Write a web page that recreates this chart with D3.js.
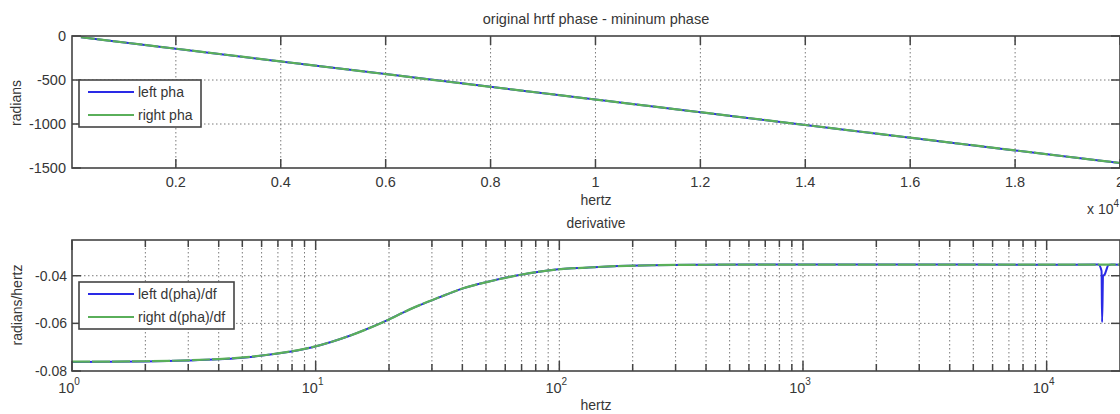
<!DOCTYPE html>
<html><head><meta charset="utf-8">
<script src="https://cdn.jsdelivr.net/npm/d3@7"></script>
<style>
html,body{margin:0;padding:0;background:#fff;}
svg{display:block;}
text{font-family:"Liberation Sans",Arial,sans-serif;fill:#363636;}
</style></head>
<body>
<svg id="c" width="1120" height="414"></svg>
<script>
// ---- data ----
const topTitle = "original hrtf phase - mininum phase";
const botTitle = "derivative";
const topFreqs = [190, 2000, 4000, 6000, 8000, 10000, 12000, 14000, 16000, 18000, 20000];
const leftPha  = [-14, -144, -289, -433, -578, -722, -866, -1011, -1155, -1300, -1444];
const rightPha = [-14, -144, -289, -433, -578, -722, -866, -1011, -1155, -1300, -1443];
const topXTicks = [2000, 4000, 6000, 8000, 10000, 12000, 14000, 16000, 18000, 20000];
const topYTicks = [0, -500, -1000, -1500];

const derivFreqs = [1, 2, 3, 4, 4.9, 7, 9.7, 13.8, 18.8, 25, 32.3, 39.7, 53.1, 68.6, 97, 129, 160, 240, 400, 800, 2000, 5000, 10000, 16300, 20000];
const rightDeriv = [-0.0761, -0.0759, -0.0755, -0.0750, -0.0744, -0.0726, -0.0700, -0.0652, -0.0596, -0.0536, -0.0490, -0.0455, -0.0421, -0.0397, -0.0374, -0.0366, -0.0361, -0.0356, -0.0354, -0.0353, -0.0353, -0.0353, -0.0353, -0.0353, -0.0353];
const leftDerivFreqs = [1, 2, 3, 4, 4.9, 7, 9.7, 13.8, 18.8, 25, 32.3, 39.7, 53.1, 68.6, 97, 129, 160, 240, 400, 800, 2000, 5000, 10000, 16300, 16800, 16885, 17045, 17290, 17950, 18470, 20000];
const leftDeriv = [-0.0762, -0.0760, -0.0756, -0.0751, -0.0745, -0.0727, -0.0700, -0.0652, -0.0596, -0.0536, -0.0490, -0.0455, -0.0421, -0.0397, -0.0374, -0.0366, -0.0361, -0.0356, -0.0354, -0.0353, -0.0353, -0.0353, -0.0354, -0.0353, -0.0380, -0.0595, -0.0400, -0.0395, -0.0355, -0.0353, -0.0354];
const botYTicks = [-0.04, -0.06, -0.08];
const botXMajor = [1, 10, 100, 1000, 10000];
const topLegend = ["left pha", "right pha"];
const botLegend = ["left d(pha)/df", "right d(pha)/df"];

const BLUE = "#2a2ae6", GREEN = "#5aaf5a", AX = "#444", GRID = "#7a7a7a";
const svg = d3.select("#c");

// ---- top plot ----
const t = {l:72, r:1120, t:36, b:168};
const xT = d3.scaleLinear().domain([20, 20000]).range([t.l, t.r]);
const yT = d3.scaleLinear().domain([-1500, 0]).range([t.b, t.t]);

function gridAndBox(g, P, xs, ys, xVals, yVals){
  g.append("g").selectAll("line").data(xVals).join("line")
    .attr("x1", d=>xs(d)).attr("x2", d=>xs(d)).attr("y1", P.t).attr("y2", P.b)
    .attr("stroke", GRID).attr("stroke-width",1).attr("stroke-dasharray","1.5,2.5");
  g.append("g").selectAll("line").data(yVals).join("line")
    .attr("y1", d=>ys(d)).attr("y2", d=>ys(d)).attr("x1", P.l).attr("x2", P.r)
    .attr("stroke", GRID).attr("stroke-width",1).attr("stroke-dasharray","1.5,2.5");
}

const gT = svg.append("g");
gT.append("rect").attr("x",t.l).attr("y",t.t).attr("width",t.r-t.l).attr("height",t.b-t.t).attr("fill","#fff");
gridAndBox(gT, t, xT, yT, topXTicks.filter(d=>d<20000), [-500,-1000]);

const lineT = (fs, vs) => d3.line().x((d,i)=>xT(fs[i])).y(d=>yT(d))(vs);
gT.append("path").attr("d", lineT(topFreqs, leftPha)).attr("fill","none").attr("stroke",BLUE).attr("stroke-width",2);
gT.append("path").attr("d", lineT(topFreqs, rightPha)).attr("fill","none").attr("stroke",GREEN).attr("stroke-width",2.2).attr("stroke-dasharray","14,2");

// ticks
const tickLen = 9;
gT.append("g").selectAll("line").data(topXTicks).join("line")
  .attr("x1", d=>xT(d)).attr("x2", d=>xT(d)).attr("y1", t.b).attr("y2", t.b-tickLen)
  .attr("stroke", AX).attr("stroke-width",1.5);
gT.append("g").selectAll("line").data(topXTicks).join("line")
  .attr("x1", d=>xT(d)).attr("x2", d=>xT(d)).attr("y1", t.t).attr("y2", t.t+tickLen)
  .attr("stroke", AX).attr("stroke-width",1.5);
gT.append("g").selectAll("line").data(topYTicks).join("line")
  .attr("x1", t.l).attr("x2", t.l+tickLen).attr("y1", d=>yT(d)).attr("y2", d=>yT(d))
  .attr("stroke", AX).attr("stroke-width",1.5);
gT.append("g").selectAll("line").data(topYTicks).join("line")
  .attr("x1", t.r-tickLen).attr("x2", t.r).attr("y1", d=>yT(d)).attr("y2", d=>yT(d))
  .attr("stroke", AX).attr("stroke-width",1.5);
gT.append("rect").attr("x",t.l).attr("y",t.t).attr("width",t.r-t.l).attr("height",t.b-t.t)
  .attr("fill","none").attr("stroke",AX).attr("stroke-width",1.6);

gT.append("g").selectAll("text").data(topXTicks).join("text")
  .attr("x", d=>xT(d)).attr("y", t.b+19).attr("text-anchor","middle").attr("font-size",14.5)
  .text(d=>d3.format("")(+(d/1e4).toFixed(1)));
gT.append("g").selectAll("text").data(topYTicks).join("text")
  .attr("x", t.l-6).attr("y", d=>yT(d)+5).attr("text-anchor","end").attr("font-size",14.5)
  .text(d=>d);
gT.append("text").attr("x",(t.l+t.r)/2).attr("y",24).attr("text-anchor","middle").attr("font-size",14.5).text(topTitle);
gT.append("text").attr("x",(t.l+t.r)/2).attr("y",205).attr("text-anchor","middle").attr("font-size",14).text("hertz");
gT.append("text").attr("transform","translate(21,103) rotate(-90)").attr("text-anchor","middle").attr("font-size",14).text("radians");
const ex = gT.append("text").attr("x",1087).attr("y",214).attr("font-size",14);
ex.append("tspan").text("x 10");
ex.append("tspan").attr("dy",-7).attr("font-size",10).text("4");

// legend
function legend(g, x, y, w, h, labels){
  g.append("rect").attr("x",x).attr("y",y).attr("width",w).attr("height",h)
    .attr("fill","#fff").attr("stroke",AX).attr("stroke-width",1.6);
  const cols=[BLUE, GREEN];
  labels.forEach((lb,i)=>{
    const yy = y + 12 + i*23;
    g.append("line").attr("x1",x+9).attr("x2",x+55).attr("y1",yy).attr("y2",yy).attr("stroke",cols[i]).attr("stroke-width",2);
    g.append("text").attr("x",x+59).attr("y",yy+5).attr("font-size",14).text(lb);
  });
}
legend(gT, 79, 80, 122, 47, topLegend);

// ---- bottom plot ----
const b = {l:72, r:1120, t:240, b:371};
const xB = d3.scaleLog().domain([1, 20000]).range([b.l, b.r]);
const yB = d3.scaleLinear().domain([-0.08, -0.025]).range([b.b, b.t]);
const minor = [];
botXMajor.forEach(m=>{ for(let k=2;k<=9;k++){ const v=m*k; if(v<20000) minor.push(v);} });
const allX = botXMajor.concat(minor);

const gB = svg.append("g");
gB.append("rect").attr("x",b.l).attr("y",b.t).attr("width",b.r-b.l).attr("height",b.b-b.t).attr("fill","#fff");
gridAndBox(gB, b, xB, yB, allX.filter(d=>d>1), [-0.04,-0.06]);
const lineB = (fs, vs) => d3.line().curve(d3.curveMonotoneX).x((d,i)=>xB(fs[i])).y(d=>yB(d))(vs);
gB.append("path").attr("d", lineB(leftDerivFreqs, leftDeriv)).attr("fill","none").attr("stroke",BLUE).attr("stroke-width",2);
gB.append("path").attr("d", lineB(derivFreqs, rightDeriv)).attr("fill","none").attr("stroke",GREEN).attr("stroke-width",2.2).attr("stroke-dasharray","18,2");

[[botXMajor,10],[minor,7]].forEach(([vals,len])=>{
  gB.append("g").selectAll("line").data(vals).join("line")
    .attr("x1", d=>xB(d)).attr("x2", d=>xB(d)).attr("y1", b.b).attr("y2", b.b-len)
    .attr("stroke", AX).attr("stroke-width",1.5);
  gB.append("g").selectAll("line").data(vals).join("line")
    .attr("x1", d=>xB(d)).attr("x2", d=>xB(d)).attr("y1", b.t).attr("y2", b.t+len)
    .attr("stroke", AX).attr("stroke-width",1.5);
});
gB.append("g").selectAll("line").data(botYTicks).join("line")
  .attr("x1", b.l).attr("x2", b.l+tickLen).attr("y1", d=>yB(d)).attr("y2", d=>yB(d))
  .attr("stroke", AX).attr("stroke-width",1.5);
gB.append("g").selectAll("line").data(botYTicks).join("line")
  .attr("x1", b.r-tickLen).attr("x2", b.r).attr("y1", d=>yB(d)).attr("y2", d=>yB(d))
  .attr("stroke", AX).attr("stroke-width",1.5);
gB.append("rect").attr("x",b.l).attr("y",b.t).attr("width",b.r-b.l).attr("height",b.b-b.t)
  .attr("fill","none").attr("stroke",AX).attr("stroke-width",1.6);

gB.append("g").selectAll("text").data(botYTicks).join("text")
  .attr("x", b.l-5).attr("y", d=>yB(d)+5).attr("text-anchor","end").attr("font-size",14)
  .text(d=>d.toFixed(2));
const xl = gB.append("g").selectAll("text").data(botXMajor).join("text")
  .attr("x", d=>xB(d)-3).attr("y", 393).attr("text-anchor","middle").attr("font-size",14.5);
xl.append("tspan").text("10");
xl.append("tspan").attr("dy",-8).attr("font-size",10).text(d=>Math.round(Math.log10(d)));
gB.append("text").attr("x",(b.l+b.r)/2).attr("y",228).attr("text-anchor","middle").attr("font-size",13.8).text(botTitle);
gB.append("text").attr("x",(b.l+b.r)/2).attr("y",410).attr("text-anchor","middle").attr("font-size",14).text("hertz");
gB.append("text").attr("transform","translate(22,305) rotate(-90)").attr("text-anchor","middle").attr("font-size",14).text("radians/hertz");
legend(gB, 79, 282, 155, 47, botLegend);
</script>
</body></html>
